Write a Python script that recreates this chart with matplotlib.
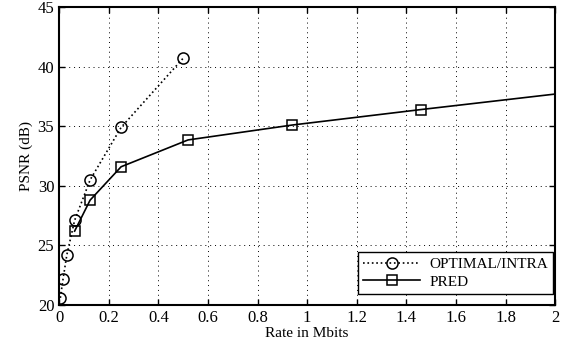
import numpy as np
import matplotlib.pyplot as plt

plt.rcParams['font.family'] = ['Liberation Serif', 'DejaVu Serif']

# OPTIMAL/INTRA
intra_rate = [0.005, 0.016, 0.031, 0.0625, 0.125, 0.25, 0.5]
intra_psnr = [20.6, 22.2, 24.2, 27.1, 30.5, 34.9, 40.7]

# PRED
pred_rate = [0.0625, 0.125, 0.25, 0.52, 0.94, 1.46, 2.5]
pred_psnr = [26.2, 28.8, 31.6, 33.85, 35.1, 36.4, 38.9]

xticks = [0, 0.2, 0.4, 0.6, 0.8, 1.0, 1.2, 1.4, 1.6, 1.8, 2.0]
xticklabels = ['0', '0.2', '0.4', '0.6', '0.8', '1', '1.2', '1.4', '1.6', '1.8', '2']
yticks = [20, 25, 30, 35, 40, 45]

fig = plt.figure(figsize=(5.63, 3.51), dpi=100)
ax = fig.add_axes([0.105, 0.131, 0.881, 0.849])

ax.plot(intra_rate, intra_psnr, color='black', linestyle=':', linewidth=1.2,
        marker='o', markersize=8, markerfacecolor='none', markeredgewidth=1.1,
        label='OPTIMAL/INTRA')
ax.plot(pred_rate, pred_psnr, color='black', linestyle='-', linewidth=1.2,
        marker='s', markersize=7, markerfacecolor='none', markeredgewidth=1.1,
        label='PRED')

ax.set_xlim(0, 2)
ax.set_ylim(20, 45)
ax.set_xticks(xticks)
ax.set_xticklabels(xticklabels)
ax.set_yticks(yticks)
ax.tick_params(direction='in', top=True, right=True, labelsize=12, length=4, width=1)
ax.grid(True, linestyle=(0, (1, 4)), color='black', linewidth=0.7)
for s in ax.spines.values():
    s.set_linewidth(1.5)

ax.set_xlabel('Rate in Mbits', fontsize=11, labelpad=1)
ax.set_ylabel('PSNR (dB)', fontsize=11, labelpad=3)

leg = ax.legend(loc='lower right', bbox_to_anchor=(0.996, 0.037),
                borderaxespad=0, fontsize=11, fancybox=False, framealpha=1,
                edgecolor='black', handlelength=3.7, borderpad=0.35,
                labelspacing=0.25, handletextpad=0.6)
leg.get_frame().set_linewidth(1.0)

fig.savefig('out.png', dpi=100)
